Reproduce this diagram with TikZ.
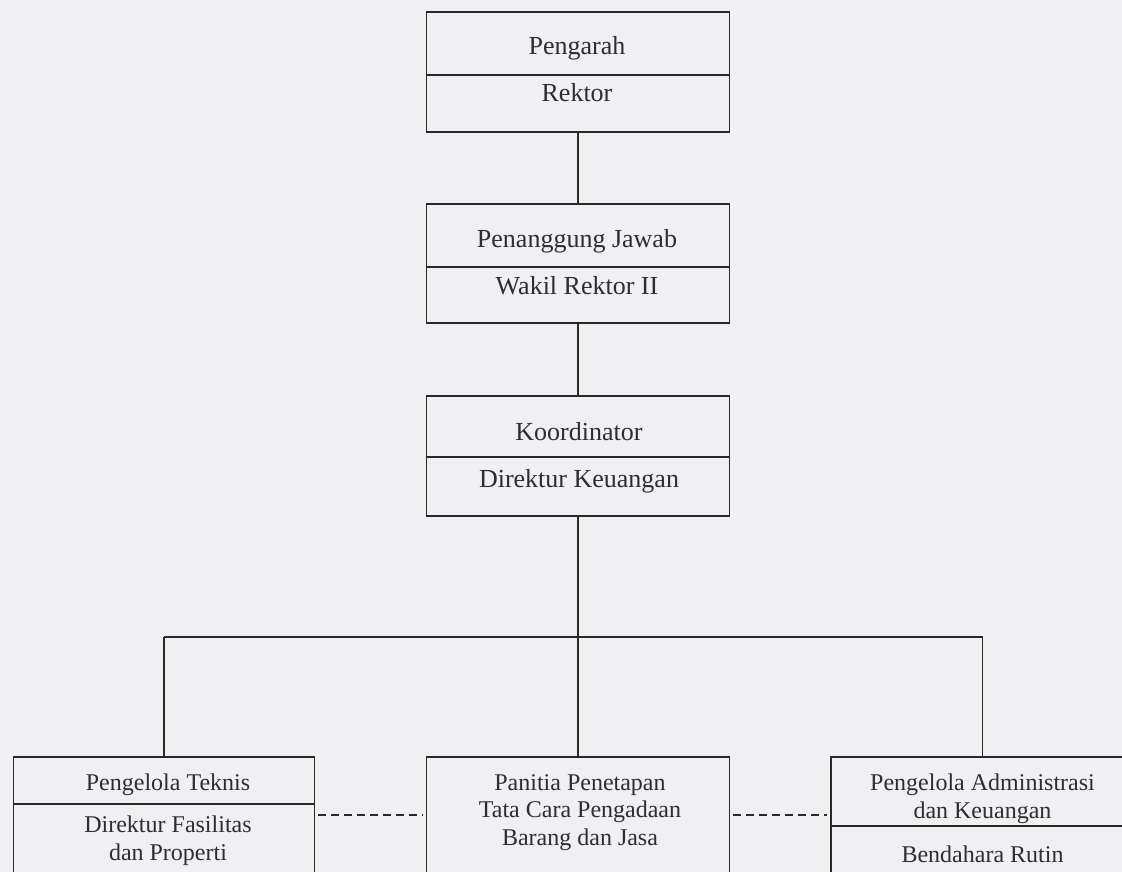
\documentclass[tikz,border=0pt]{standalone}
\usepackage{fontspec}
\setmainfont{Liberation Serif}
\definecolor{paper}{RGB}{240,240,242}
\definecolor{linec}{RGB}{45,40,40}
\definecolor{textc}{RGB}{45,45,50}
\begin{document}
\begin{tikzpicture}[x=1pt,y=-1pt,
  box/.style={draw=linec, line width=1.9pt, rectangle, inner sep=0pt},
  conn/.style={draw=linec, line width=1.9pt},
  dashline/.style={draw=linec, line width=1.5pt, dash pattern=on 8pt off 5pt, shorten <=3pt, shorten >=3pt},
  bigtxt/.style={font=\fontsize{26}{28}\selectfont, text=textc, anchor=base, inner sep=0pt, align=center},
  smalltxt/.style={font=\fontsize{24}{27.5}\selectfont, text=textc, anchor=base, inner sep=0pt, align=center}]
\useasboundingbox (0,0) rectangle (1122,872);
\fill[paper] (0,0) rectangle (1122,872);
\clip (0,0) rectangle (1122,872);

% top boxes
\node[box, minimum width=303pt, minimum height=120pt] (b1) at (578,72) {};
\node[box, minimum width=303pt, minimum height=119pt] (b2) at (578,263.5) {};
\node[box, minimum width=303pt, minimum height=120pt] (b3) at (578,456) {};
\coordinate (y1) at (0,75);
\coordinate (y2) at (0,267);
\coordinate (y3) at (0,457);
\draw[conn] (b1.west |- y1) -- (b1.east |- y1);
\draw[conn] (b2.west |- y2) -- (b2.east |- y2);
\draw[conn] (b3.west |- y3) -- (b3.east |- y3);

% bottom boxes
\node[box, minimum width=301pt, minimum height=143pt] (L) at (164,828.5) {};
\node[box, minimum width=303pt, minimum height=143pt] (M) at (578,828.5) {};
\node[box, minimum width=303pt, minimum height=143pt] (R) at (982.5,828.5) {};
\coordinate (yl) at (0,804);
\coordinate (yr) at (0,826);
\draw[conn] (L.west |- yl) -- (L.east |- yl);
\draw[conn] (R.west |- yr) -- (R.east |- yr);

% texts
\node[bigtxt] (t1a) at (577,55) {Pengarah};
\node[bigtxt] (t1b) at (577,102) {Rektor};
\node[bigtxt] (t2a) at (577,247) {Penanggung Jawab};
\node[bigtxt] (t2b) at (577,294) {Wakil Rektor II};
\node[bigtxt] (t3a) at (579,440) {Koordinator};
\node[bigtxt] (t3b) at (579,487) {Direktur Keuangan};
\node[smalltxt] (tla) at (168,790) {Pengelola Teknis};
\node[smalltxt] (tlb) at (168,860) {Direktur Fasilitas\\dan Properti};
\node[smalltxt] (tm) at (580,845) {Panitia Penetapan\\Tata Cara Pengadaan\\Barang dan Jasa};
\node[smalltxt] (tra) at (982.5,818) {Pengelola Administrasi\\dan Keuangan};
\node[smalltxt] (trb) at (982.5,862) {Bendahara Rutin};

% connectors
\coordinate (bar) at (578,637);
\draw[conn] (b1.south) -- (b2.north);
\draw[conn] (b2.south) -- (b3.north);
\draw[conn] (b3.south) -- (b3.south |- bar);
\draw[conn] (L.north |- bar) -- (R.north |- bar);
\draw[conn] (L.north |- bar) -- (L.north);
\draw[conn] (M.north |- bar) -- (M.north);
\draw[conn] (R.north |- bar) -- (R.north);
\coordinate (yd) at (0,815);
\draw[dashline] (L.east |- yd) -- (M.west |- yd);
\draw[dashline] (M.east |- yd) -- (R.west |- yd);
\end{tikzpicture}
\end{document}
